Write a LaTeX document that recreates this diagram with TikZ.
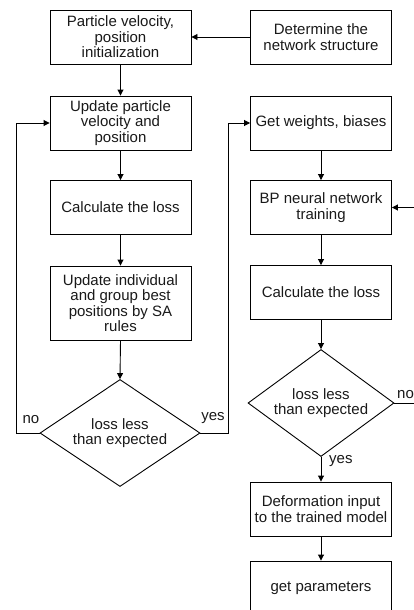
\documentclass[tikz,border=0pt]{standalone}
\usepackage{fontspec}
\setmainfont{Liberation Sans}
\usetikzlibrary{shapes.geometric,arrows.meta}
\begin{document}
\begin{tikzpicture}[x=1pt,y=-1pt,
  every node/.style={font=\fontsize{15}{15.5}\selectfont, text=black!90},
  box/.style={draw, line width=0.9pt, minimum width=141pt, minimum height=54pt, align=center, inner sep=1pt},
  dec/.style={draw, line width=0.9pt, shape=diamond, inner sep=0pt},
  arr/.style={line width=0.9pt, -{Triangle[length=6pt,width=6pt]}},
  lab/.style={inner sep=0pt}]
\clip (0,0) rectangle (414,610);
\useasboundingbox (0,0) rectangle (414,610);
\node[box] (b1) at (120.5,37) {Particle velocity,\\position\\initialization};
\node[box] (det) at (321,37) {Determine the\\network structure};
\node[box] (b2) at (120.5,123) {Update particle\\velocity and\\position};
\node[box] (gw) at (321,123) {Get weights, biases};
\node[box] (b3) at (120.5,207.5) {Calculate the loss};
\node[box] (bp) at (321,207.5) {BP neural network\\training};
\node[box, minimum height=74pt] (b4) at (120.5,303) {Update individual\\and group best\\positions by SA\\rules};
\node[box] (cl) at (321,292.5) {Calculate the loss};
\node[dec, minimum width=160pt, minimum height=107pt] (d1) at (120,433) {};
\node[align=center] (t1) at (d1.center) {loss less\\than expected};
\node[dec, minimum width=146pt, minimum height=107pt] (d2) at (321,403) {};
\node[align=center] (t2) at (d2.center) {loss less\\than expected};
\node[box] (def) at (321,509) {Deformation input\\to the trained model};
\node[box] (gp) at (321,588) {get parameters};
\coordinate (nl) at (16,433);
\coordinate (yr) at (228,433);
\coordinate (nr) at (420,403);
\draw[arr] (det.west) -- (b1.east);
\draw[arr] (b1.south) -- (b2.north);
\draw[arr] (b2.south) -- (b3.north);
\draw[arr] (b3.south) -- (b4.north);
\draw[arr] (b4.south) -- (d1.north);
\draw[arr] (d1.west) -- (nl) |- (b2.west);
\draw[arr] (d1.east) -- (yr) |- (gw.west);
\draw[arr] (gw.south) -- (bp.north);
\draw[arr] (bp.south) -- (cl.north);
\draw[arr] (cl.south) -- (d2.north);
\draw[arr] (d2.east) -- (nr) |- (bp.east);
\draw[arr] (d2.south) -- (def.north);
\draw[arr] (def.south) -- (gp.north);
\node[lab] (lno1) at (31,420) {no};
\node[lab] (lyes1) at (213,418) {yes};
\node[lab, anchor=west] (lno2) at (397,395) {no};
\node[lab, anchor=west] (lyes2) at (329,461) {yes};
\end{tikzpicture}
\end{document}
